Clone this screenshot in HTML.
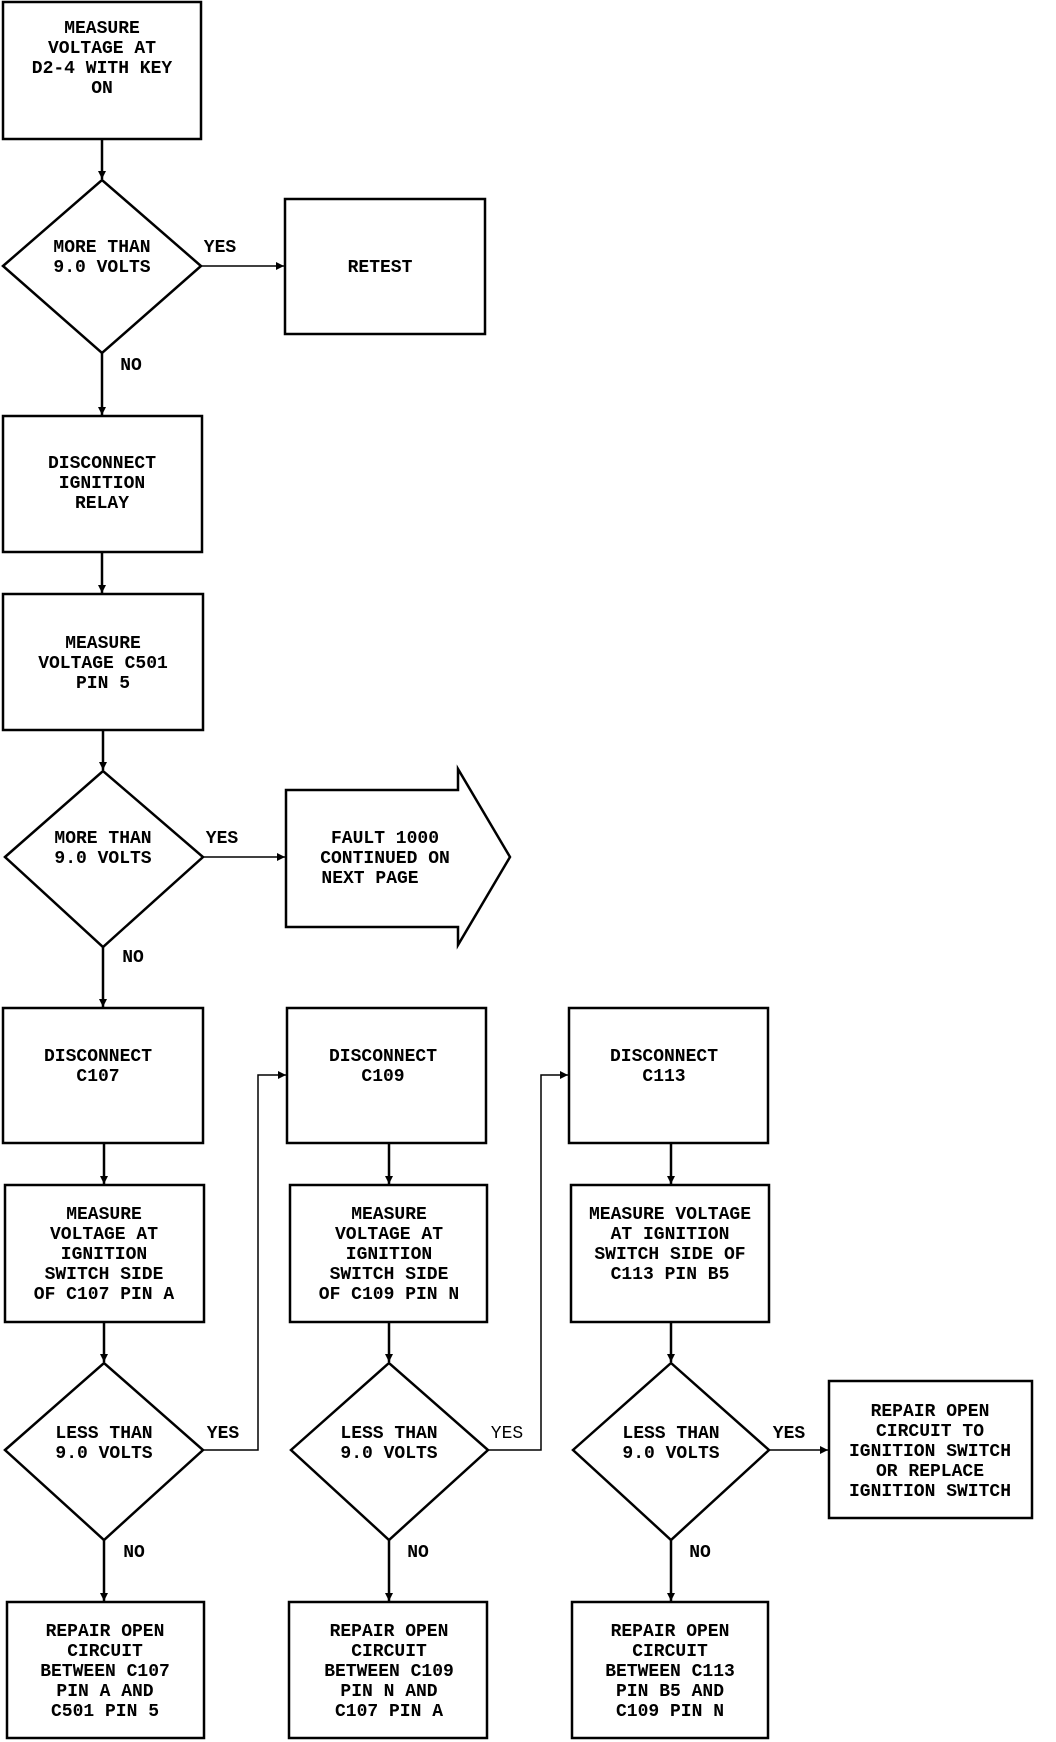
<!DOCTYPE html>
<html><head><meta charset="utf-8"><style>
html,body{margin:0;padding:0;background:#fff;}
svg{display:block}
text{font-family:"Liberation Mono","DejaVu Sans Mono",monospace;font-size:18px;font-weight:bold;fill:#000;text-anchor:middle;}
</style></head><body>
<svg width="1056" height="1742" viewBox="0 0 1056 1742" xmlns="http://www.w3.org/2000/svg">
<defs><marker id="a" markerWidth="10" markerHeight="10" refX="8" refY="4" orient="auto" markerUnits="userSpaceOnUse"><path d="M0,0 L8,4 L0,8 z" fill="#000"/></marker></defs>
<g fill="none" stroke="#000" stroke-width="2.5">
<rect x="3" y="2" width="198" height="137"/>
<path d="M3,266 L102,180 L201,266 L102,353 Z"/>
<rect x="285" y="199" width="200" height="135"/>
<rect x="3" y="416" width="199" height="136"/>
<rect x="3" y="594" width="200" height="136"/>
<path d="M5,857 L103,771 L203,857 L103,947 Z"/>
<path d="M286,790 L458,790 L458,769 L510,857 L458,945 L458,927 L286,927 Z"/>
<rect x="3" y="1008" width="200" height="135"/>
<rect x="287" y="1008" width="199" height="135"/>
<rect x="569" y="1008" width="199" height="135"/>
<rect x="5" y="1185" width="199" height="137"/>
<rect x="290" y="1185" width="197" height="137"/>
<rect x="571" y="1185" width="198" height="137"/>
<path d="M5,1450 L104,1363 L203,1450 L104,1540 Z"/>
<path d="M291,1450 L389,1363 L488,1450 L389,1540 Z"/>
<path d="M573,1450 L671,1363 L769,1450 L671,1540 Z"/>
<rect x="7" y="1602" width="197" height="136"/>
<rect x="289" y="1602" width="198" height="136"/>
<rect x="572" y="1602" width="196" height="136"/>
<rect x="829" y="1381" width="203" height="137"/>
</g>
<g fill="none" stroke="#000" stroke-width="2.5" marker-end="url(#a)">
<line x1="102" y1="139" x2="102" y2="179"/>
<line x1="102" y1="353" x2="102" y2="415"/>
<line x1="102" y1="552" x2="102" y2="593"/>
<line x1="103" y1="730" x2="103" y2="770"/>
<line x1="103" y1="947" x2="103" y2="1007"/>
<line x1="104" y1="1143" x2="104" y2="1184"/>
<line x1="104" y1="1322" x2="104" y2="1362"/>
<line x1="104" y1="1540" x2="104" y2="1601"/>
<line x1="389" y1="1143" x2="389" y2="1184"/>
<line x1="389" y1="1322" x2="389" y2="1362"/>
<line x1="389" y1="1540" x2="389" y2="1601"/>
<line x1="671" y1="1143" x2="671" y2="1184"/>
<line x1="671" y1="1322" x2="671" y2="1362"/>
<line x1="671" y1="1540" x2="671" y2="1601"/>
</g>
<g fill="none" stroke="#000" stroke-width="1.5" marker-end="url(#a)">
<line x1="201" y1="266" x2="284" y2="266"/>
<line x1="203" y1="857" x2="285" y2="857"/>
<polyline points="203,1450 258,1450 258,1075 286,1075"/>
<polyline points="488,1450 541,1450 541,1075 568,1075"/>
<line x1="769" y1="1450" x2="828" y2="1450"/>
</g>
<text x="102" y="33">MEASURE</text><text x="102" y="53">VOLTAGE AT</text><text x="102" y="73">D2-4 WITH KEY</text><text x="102" y="93">ON</text>
<text x="102" y="252">MORE THAN</text><text x="102" y="272">9.0 VOLTS</text>
<text x="220" y="252">YES</text><text x="131" y="370">NO</text>
<text x="380" y="272">RETEST</text>
<text x="102" y="468">DISCONNECT</text><text x="102" y="488">IGNITION</text><text x="102" y="508">RELAY</text>
<text x="103" y="648">MEASURE</text><text x="103" y="668">VOLTAGE C501</text><text x="103" y="688">PIN 5</text>
<text x="103" y="843">MORE THAN</text><text x="103" y="863">9.0 VOLTS</text>
<text x="222" y="843">YES</text><text x="133" y="962">NO</text>
<text x="385" y="843">FAULT 1000</text><text x="385" y="863">CONTINUED ON</text><text x="370" y="883">NEXT PAGE</text>
<text x="98" y="1061">DISCONNECT</text><text x="98" y="1081">C107</text>
<text x="383" y="1061">DISCONNECT</text><text x="383" y="1081">C109</text>
<text x="664" y="1061">DISCONNECT</text><text x="664" y="1081">C113</text>
<text x="104" y="1219">MEASURE</text><text x="104" y="1239">VOLTAGE AT</text><text x="104" y="1259">IGNITION</text><text x="104" y="1279">SWITCH SIDE</text><text x="104" y="1299">OF C107 PIN A</text>
<text x="389" y="1219">MEASURE</text><text x="389" y="1239">VOLTAGE AT</text><text x="389" y="1259">IGNITION</text><text x="389" y="1279">SWITCH SIDE</text><text x="389" y="1299">OF C109 PIN N</text>
<text x="670" y="1219">MEASURE VOLTAGE</text><text x="670" y="1239">AT IGNITION</text><text x="670" y="1259">SWITCH SIDE OF</text><text x="670" y="1279">C113 PIN B5</text>
<text x="104" y="1438">LESS THAN</text><text x="104" y="1458">9.0 VOLTS</text>
<text x="389" y="1438">LESS THAN</text><text x="389" y="1458">9.0 VOLTS</text>
<text x="671" y="1438">LESS THAN</text><text x="671" y="1458">9.0 VOLTS</text>
<text x="223" y="1438">YES</text><text x="507" y="1438" style="font-weight:normal">YES</text><text x="789" y="1438">YES</text>
<text x="134" y="1557">NO</text><text x="418" y="1557">NO</text><text x="700" y="1557">NO</text>
<text x="930" y="1416">REPAIR OPEN</text><text x="930" y="1436">CIRCUIT TO</text><text x="930" y="1456">IGNITION SWITCH</text><text x="930" y="1476">OR REPLACE</text><text x="930" y="1496">IGNITION SWITCH</text>
<text x="105" y="1636">REPAIR OPEN</text><text x="105" y="1656">CIRCUIT</text><text x="105" y="1676">BETWEEN C107</text><text x="105" y="1696">PIN A AND</text><text x="105" y="1716">C501 PIN 5</text>
<text x="389" y="1636">REPAIR OPEN</text><text x="389" y="1656">CIRCUIT</text><text x="389" y="1676">BETWEEN C109</text><text x="389" y="1696">PIN N AND</text><text x="389" y="1716">C107 PIN A</text>
<text x="670" y="1636">REPAIR OPEN</text><text x="670" y="1656">CIRCUIT</text><text x="670" y="1676">BETWEEN C113</text><text x="670" y="1696">PIN B5 AND</text><text x="670" y="1716">C109 PIN N</text>
</svg>
</body></html>
